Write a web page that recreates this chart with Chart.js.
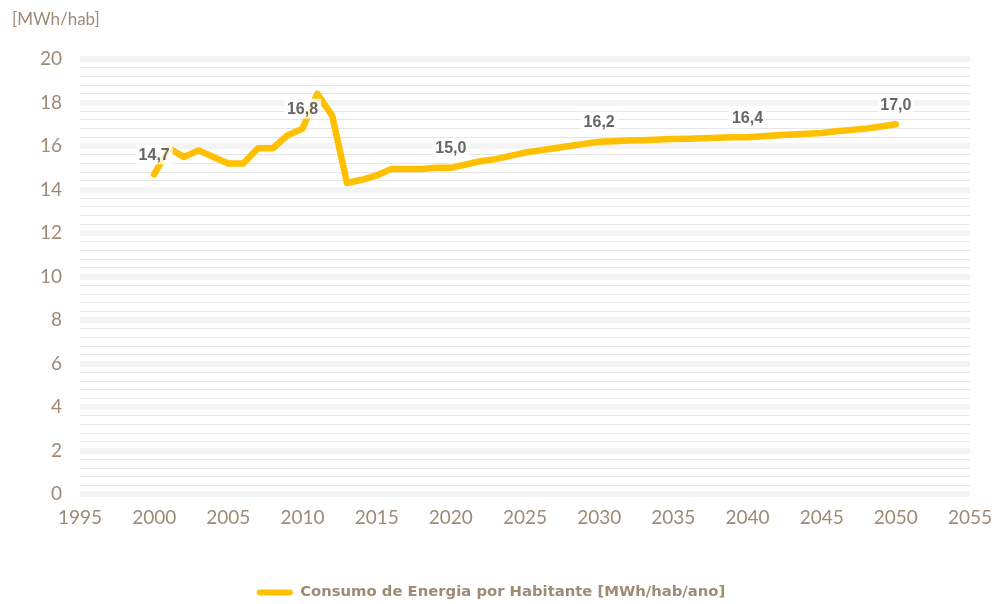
<!DOCTYPE html>
<html>
<head>
<meta charset="utf-8">
<script src="https://cdn.jsdelivr.net/npm/chart.js@4/dist/chart.umd.min.js"></script>
<style>
html,body{margin:0;padding:0;background:#ffffff;}
#wrap{width:997px;height:604px;}
</style>
</head>
<body>
<div id="wrap"><canvas id="c" width="997" height="604"></canvas></div>
<script>
// ---- data ----
const years = [2000,2001,2002,2003,2004,2005,2006,2007,2008,2009,
               2010,2011,2012,2013,2014,2015,2016,2017,2018,2019,
               2020,2021,2022,2023,2024,2025,2026,2027,2028,2029,
               2030,2031,2032,2033,2034,2035,2036,2037,2038,2039,
               2040,2041,2042,2043,2044,2045,2046,2047,2048,2049,2050];
const consumo = [14.7,15.9,15.5,15.8,15.5,15.2,15.2,15.9,15.9,16.5,
                 16.8,18.4,17.4,14.3,14.45,14.65,14.95,14.95,14.95,15.0,
                 15.0,15.15,15.3,15.4,15.55,15.7,15.8,15.9,16.0,16.1,
                 16.2,16.22,16.25,16.27,16.3,16.32,16.34,16.36,16.38,16.4,
                 16.4,16.45,16.5,16.53,16.57,16.6,16.68,16.74,16.8,16.9,17.0];
const labeledYears = [2000,2010,2020,2030,2040,2050];
const seriesName = 'Consumo de Energia por Habitante [MWh/hab/ano]';
const yAxisTitle = '[MWh/hab]';
const xMin = 1995, xMax = 2055, xStep = 5;
const yMin = 0, yMax = 20, yMajorStep = 2, yMinorStep = 0.4;

const brown = '#9e8b76';
const yellow = '#FFC000';

const isMajor = v => Math.abs(v / yMajorStep - Math.round(v / yMajorStep)) < 1e-6;

const pointLabels = {
  id: 'pointLabels',
  afterDatasetsDraw(chart) {
    const ctx = chart.ctx;
    const meta = chart.getDatasetMeta(0);
    ctx.save();
    ctx.font = 'bold 16px "Liberation Sans", Arial, sans-serif';
    ctx.textAlign = 'center';
    ctx.textBaseline = 'middle';
    meta.data.forEach((el, i) => {
      if (!labeledYears.includes(years[i])) return;
      const txt = consumo[i].toFixed(1).replace('.', ',');
      const x = el.x, y = el.y - 20;
      const w = ctx.measureText(txt).width;
      ctx.fillStyle = 'rgba(255,255,255,0.8)';
      ctx.fillRect(x - w / 2 - 3, y - 10, w + 6, 20);
      ctx.fillStyle = '#666666';
      ctx.fillText(txt, x, y + 1);
    });
    ctx.restore();
  }
};

new Chart(document.getElementById('c'), {
  type: 'line',
  data: {
    datasets: [{
      label: seriesName,
      data: years.map((yr, i) => ({x: yr, y: consumo[i]})),
      borderColor: yellow,
      backgroundColor: yellow,
      borderWidth: 6.5,
      borderCapStyle: 'round',
      borderJoinStyle: 'round',
      pointRadius: 0,
      pointHoverRadius: 0,
      tension: 0,
      fill: false,
      clip: false
    }]
  },
  options: {
    responsive: false,
    animation: false,
    devicePixelRatio: 1,
    layout: { padding: { left: 12, right: 27, top: 0, bottom: -6 } },
    plugins: {
      tooltip: { enabled: false },
      title: {
        display: true,
        text: yAxisTitle,
        align: 'start',
        color: brown,
        font: { family: 'Lato', size: 17, weight: 'normal', lineHeight: 1.2 },
        padding: { top: 9, bottom: 29.6 }
      },
      legend: {
        position: 'bottom',
        labels: {
          color: brown,
          font: { family: '"DejaVu Sans"', size: 14.8, weight: 'bold' },
          boxWidth: 36,
          boxHeight: 6,
          padding: 10,
          generateLabels: (chart) => [{
            text: seriesName,
            fillStyle: yellow,
            strokeStyle: yellow,
            lineWidth: 0,
            borderRadius: 3,
            fontColor: brown,
            datasetIndex: 0,
            hidden: false
          }],
          useBorderRadius: true,
          borderRadius: 3
        }
      }
    },
    scales: {
      x: {
        type: 'linear',
        min: xMin,
        max: xMax,
        grid: { display: false, drawTicks: false },
        border: { display: false },
        ticks: {
          stepSize: xStep,
          autoSkip: false,
          maxRotation: 0,
          color: brown,
          font: { family: 'Lato', size: 19 },
          padding: 12,
          callback: v => String(v)
        },
        afterFit: s => { s.height = 81; s.paddingRight = 0; s.paddingLeft = 0; }
      },
      y: {
        min: yMin,
        max: yMax,
        grid: {
          drawTicks: false,
          color: c => isMajor(c.tick.value) ? '#f4f4f4' : '#e6e6e6',
          lineWidth: c => isMajor(c.tick.value) ? 6 : 1
        },
        border: { display: false },
        ticks: {
          stepSize: yMinorStep,
          autoSkip: false,
          color: brown,
          font: { family: 'Lato', size: 19 },
          padding: 18,
          callback: v => isMajor(v) ? String(Math.round(v)) : ''
        },
        afterFit: s => { s.width = 68; }
      }
    }
  },
  plugins: [pointLabels]
});
</script>
</body>
</html>
